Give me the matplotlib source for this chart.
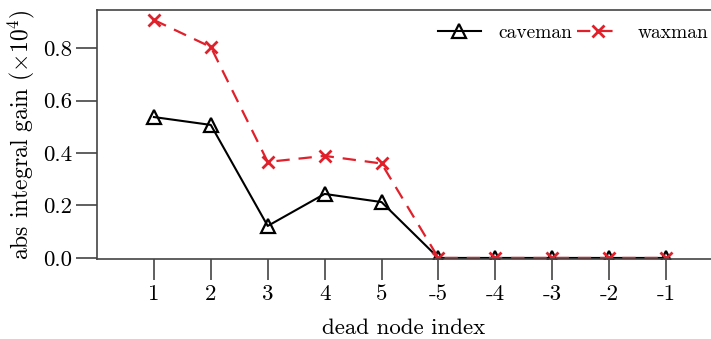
import matplotlib
matplotlib.use("Agg")
import matplotlib.pyplot as plt

# data
node_labels = ["1", "2", "3", "4", "5", "-5", "-4", "-3", "-2", "-1"]
caveman = [0.537, 0.507, 0.122, 0.244, 0.213, 0.0, 0.0, 0.0, 0.0, 0.0]
waxman = [0.907, 0.804, 0.366, 0.389, 0.360, 0.0, 0.0, 0.0, 0.0, 0.0]
yticks = [0.0, 0.2, 0.4, 0.6, 0.8]

RED = "#e0202a"
EDGE = "#444444"

plt.rcParams["font.family"] = "cmr10"
plt.rcParams["mathtext.fontset"] = "cm"
plt.rcParams["axes.formatter.use_mathtext"] = True

fig = plt.figure(figsize=(7.11, 3.39), dpi=100)
ax = fig.add_axes([97 / 711, 1 - 259 / 339, 1 - 97 / 711, (259 - 10) / 339])

x = list(range(len(node_labels)))
ax.plot(x, caveman, color="black", lw=1.5, marker="^", ms=10, mfc="none",
        mec="black", mew=1.6, label="caveman")
ax.plot(x, waxman, color=RED, lw=1.6, ls=(0, (6, 4)), marker="x", ms=8,
        mew=2, label="waxman")

ax.set_xlim(-1, 9.79)
ax.set_ylim(-0.004, 0.945)
ax.set_xticks(x, node_labels)
ax.set_yticks(yticks, [f"{v:.1f}" for v in yticks])

ax.spines["right"].set_visible(False)
for s in ("left", "top", "bottom"):
    ax.spines[s].set_color(EDGE)
    ax.spines[s].set_linewidth(1.2)
ax.tick_params(direction="out", length=15, width=1.2, color=EDGE,
               labelsize=16.5, pad=3)

ax.set_xlabel("dead node index", fontsize=16.5)
ax.xaxis.set_label_coords(0.5, -0.24)
ax.set_ylabel(r"abs integral gain ($\times 10^4$)", fontsize=17)
ax.yaxis.set_label_coords(-0.097, 0.5)

ax.legend(loc="center right", ncol=2, frameon=False, fontsize=14,
          handlelength=2.2, handletextpad=0.9, columnspacing=0.25,
          borderaxespad=0, borderpad=0.15, bbox_to_anchor=(1.0, 0.908))

fig.savefig("out.png", dpi=100)
